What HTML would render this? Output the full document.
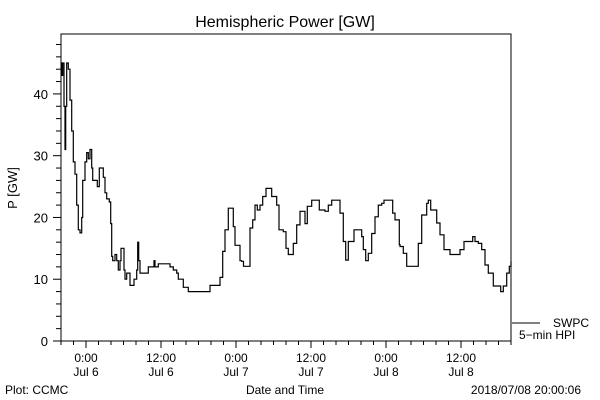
<!DOCTYPE html>
<html><head><meta charset="utf-8"><style>
html,body{margin:0;padding:0;background:#fff;}
svg{display:block;font-family:"Liberation Sans",sans-serif;}
</style></head><body>
<svg id="chart" width="600" height="400" viewBox="0 0 600 400">
<text x="285" y="27" font-size="16" text-anchor="middle">Hemispheric Power [GW]</text>
<text x="0" y="0" font-size="13" text-anchor="middle" transform="translate(17,188) rotate(-90)">P [GW]</text>
<text x="285" y="394" font-size="12" text-anchor="middle">Date and Time</text>
<text x="5" y="394" font-size="12">Plot: CCMC</text>
<text x="581" y="394" font-size="12" text-anchor="end">2018/07/08 20:00:06</text>
<g id="axes"></g>
<g id="series"></g>
<line x1="512" y1="323" x2="540" y2="323" stroke="#000"/>
<text x="553" y="327" font-size="12">SWPC</text>
<text x="519" y="339" font-size="12">5−min HPI</text>
</svg>
<script>
const hours=[0,0.16,0.27,0.48,0.64,0.75,0.91,1.17,1.44,1.71,1.97,2.24,2.51,2.77,3.04,3.31,3.47,3.84,4.11,4.37,4.64,4.91,5.07,5.71,5.81,6.13,6.67,6.77,7.04,7.31,7.73,7.95,8.11,8.27,8.64,8.91,9.17,9.44,9.6,9.87,10.08,10.24,10.51,10.77,11.04,11.47,11.68,12.11,12.27,12.43,12.64,13.71,13.97,14.77,14.88,15.04,15.57,16.91,17.44,17.97,18.51,18.77,19.57,20.37,23.68,23.84,24.91,25.44,25.87,26.24,26.77,27.15,27.57,27.84,28.37,28.64,28.9,29.2,29.97,30.24,30.67,31.04,31.41,31.84,32.27,32.8,33.44,33.71,34.51,34.88,35.57,36,36.37,36.75,37.17,37.71,38.24,38.67,39.04,39.41,40.11,40.91,41.33,42.24,42.77,43.31,44.21,44.64,45.17,45.55,45.97,46.35,46.88,47.41,48.11,48.37,48.75,49.17,49.71,50.24,50.77,51.31,51.68,52.53,53.07,53.44,54.13,54.24,54.77,55.31,56.37,57.17,57.71,58.51,58.77,59.15,60.11,60.64,61.28,62.24,63.41,63.84,64.48,65.44,65.87,66.24,66.77,67.31,67.84,68.37,68.91,69.17,69.97,70.35,70.77,71.31,71.73,72];
const power=[45,43,45,38,31,38,45,44,39,34,29,27,22,18,17.5,20,26,29,30.5,29.5,31,28,26,26,25,28,28,26.5,24,23,22.5,19,13.7,13,14,13,11.5,13,15,15,11.5,10,11,11,9,9,10,11.5,16,13,11,11,12,12,13,12,12.5,12.5,12,11.5,11,10,8.7,8,8,9,9,10.3,14.5,18,21.5,21.5,18.5,15.5,15.5,13,12.9,12.1,12.1,18.3,19.6,22,21.2,22,23.4,24.7,24.7,23.4,22,18,17.7,15,14,14,15.8,18.8,21,21,19,21.8,22.8,22.8,21.2,21,22,22.8,22.8,20.7,16.1,13.1,16.1,16.1,18,18,16.9,14.8,13,14.2,17.4,20.1,22,22.3,22.8,22.8,20.7,19.6,15.6,15.3,14.2,12.1,12.1,15.8,20.4,22.3,22.8,21.2,19.1,17.2,14.8,14,14,14.8,16.1,16.1,16.9,16.1,15.8,14.8,12.3,11,11,8.9,8.9,8,8.9,11,12.1,12.9];
const yTicks=[0,10,20,30,40];
const xTickHours=[4,16,28,40,52,64];
const xTickLabels=[["0:00","Jul 6"],["12:00","Jul 6"],["0:00","Jul 7"],["12:00","Jul 7"],["0:00","Jul 8"],["12:00","Jul 8"]];
const L=61,R=511,T=34,B=341,XMAX=72,YMAX=49.7;
const sx=h=>L+(R-L)*h/XMAX;
const sy=v=>B-(B-T)*v/YMAX;
const NS="http://www.w3.org/2000/svg";
function mk(tag,attrs,parent){const e=document.createElementNS(NS,tag);for(const k in attrs)e.setAttribute(k,attrs[k]);parent.appendChild(e);return e;}
const ax=document.getElementById('axes');
const frame=mk('rect',{x:L,y:T,width:R-L,height:B-T,fill:'none',stroke:'#000','stroke-width':1},ax);


for(let v=0;v<=48;v+=2){
  const major=v%10===0;
  const t=mk('line',{x1:major?53:56,x2:L,y1:sy(v),y2:sy(v),stroke:'#000'},ax);
  
  
}
yTicks.forEach(v=>{
  const t=mk('text',{x:48,y:sy(v)+5,'font-size':13,'text-anchor':'end'},ax);
  t.textContent=v;
  
  
});
for(let h=0;h<=72;h+=2){
  const major=xTickHours.includes(h);
  const t=mk('line',{x1:sx(h),x2:sx(h),y1:B,y2:major?348:345,stroke:'#000'},ax);
  
  
}
xTickHours.forEach((h,i)=>{
  const t1=mk('text',{x:sx(h),y:362,'font-size':12,'text-anchor':'middle'},ax);
  t1.textContent=xTickLabels[i][0];
  
  
  const t2=mk('text',{x:sx(h),y:376,'font-size':12,'text-anchor':'middle'},ax);
  t2.textContent=xTickLabels[i][1];
  
  
});
let d='';
hours.forEach((h,i)=>{
  if(i===0)d+='M'+sx(h).toFixed(1)+' '+sy(power[i]).toFixed(1);
  else d+=' H'+sx(h).toFixed(1)+' V'+sy(power[i]).toFixed(1);
});
const p=mk('path',{d:d,fill:'none',stroke:'#000','stroke-width':1.2},document.getElementById('series'));


</script>
</body></html>
